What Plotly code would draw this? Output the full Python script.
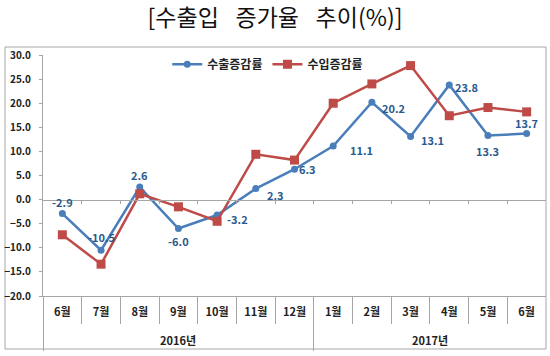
import plotly.graph_objects as go

years = ["2016년"] * 7 + ["2017년"] * 6
months = ["6월", "7월", "8월", "9월", "10월", "11월", "12월",
          "1월", "2월", "3월", "4월", "5월", "6월"]
exports = [-2.9, -10.5, 2.6, -6.0, -3.2, 2.3, 6.3, 11.1, 20.2, 13.1, 23.8, 13.3, 13.7]
imports = [-7.3, -13.4, 1.2, -1.5, -4.5, 9.4, 8.2, 20.0, 24.0, 27.8, 17.4, 19.1, 18.2]
y_ticks = [-20, -15, -10, -5, 0, 5, 10, 15, 20, 25, 30]

# label offsets (px) for the export data labels
label_dx = [0, 0, 0, 0, 20, 20, 13, 28, 22, 22, 17, 0, 0]
label_dy = [12, 13, 12, -12, -4, -6, 0, -4, -6, -4, -2, -16, 11]

FONT = "Noto Sans CJK KR"
BLUE = "#4A7EBB"
RED = "#BE4B48"
LBL = "#2A5A8E"
GRID = "#A6A6A6"

n = len(months)
idx = list(range(n))
xr = [-0.5, n - 0.5]
bounds = [i + 0.5 for i in range(n - 1)]
group_edges = [-0.5] + [i - 0.5 for i in range(1, n) if years[i] != years[i - 1]]
groups = []
for i, yv in enumerate(years):
    if not groups or groups[-1][0] != yv:
        groups.append([yv, i, i])
    else:
        groups[-1][2] = i

L, R, T, B = 43, 4, 55, 60
PW, PH = 550 - L - R, 356 - T - B

fig = go.Figure()
fig.add_trace(go.Scatter(
    x=idx, y=exports, name="수출증감률", mode="lines+markers",
    line=dict(color=BLUE, width=2.5), marker=dict(symbol="circle", size=7, color=BLUE)))
fig.add_trace(go.Scatter(
    x=idx, y=imports, name="수입증감률", mode="lines+markers",
    line=dict(color=RED, width=2.5), marker=dict(symbol="square", size=9, color=RED)))
for ax in ["x2", "x3", "x4"]:
    fig.add_trace(go.Scatter(x=idx, y=exports, xaxis=ax, mode="none",
                             showlegend=False, hoverinfo="skip"))

annotations = []
for i, v in enumerate(exports):
    annotations.append(dict(
        x=i, y=v, xref="x", yref="y", text=f"{v:.1f}", showarrow=False,
        xshift=label_dx[i], yshift=label_dy[i],
        font=dict(family=FONT, size=11, color=LBL, weight="bold")))
for name, a, b in groups:
    annotations.append(dict(
        x=(a + b) / 2, y=-44 / PH, xref="x", yref="paper", text=name, showarrow=False,
        yanchor="middle",
        font=dict(family=FONT, size=11, color="#222222", weight="bold")))

fig.update_layout(
    width=550, height=356,
    margin=dict(l=L, r=R, t=T, b=B, autoexpand=False),
    paper_bgcolor="white", plot_bgcolor="white",
    title=dict(text="[수출입\u2002 증가율\u2002 추이(%)]", x=0.5, xanchor="center",
               y=1 - 18 / 356, yanchor="middle",
               font=dict(family=FONT, size=23, color="#111111")),
    showlegend=True,
    legend=dict(orientation="h", x=0.247, xanchor="left", y=0.962, yanchor="middle",
                font=dict(family=FONT, size=12, color="#222222", weight="bold"),
                bgcolor="rgba(0,0,0,0)", itemwidth=30),
    xaxis=dict(range=xr, tickvals=idx, ticktext=months, ticks="",
               showline=True, linecolor=GRID, linewidth=1, ticklabelstandoff=6,
               showgrid=False, zeroline=False, automargin=False,
               tickfont=dict(family=FONT, size=11, color="#222222", weight="bold")),
    xaxis2=dict(overlaying="x", anchor="y", side="bottom", range=xr, tickvals=bounds,
                ticks="outside", ticklen=27, tickcolor=GRID, showline=False,
                showticklabels=False, showgrid=False, zeroline=False, automargin=False),
    xaxis3=dict(overlaying="x", anchor="free", position=20 / 50, range=xr, tickvals=bounds,
                showline=True, linecolor=GRID, linewidth=1,
                ticks="outside", ticklen=3, tickcolor=GRID,
                showticklabels=False, showgrid=False, zeroline=False, automargin=False),
    xaxis4=dict(overlaying="x", anchor="y", side="bottom", range=xr, tickvals=group_edges,
                ticks="outside", ticklen=54, tickcolor=GRID, showline=False,
                showticklabels=False, showgrid=False, zeroline=False, automargin=False),
    yaxis=dict(range=[-20, 30], tickvals=y_ticks, tickformat=".1f",
               showline=True, linecolor=GRID, linewidth=1,
               ticks="outside", ticklen=3, tickcolor=GRID,
               showgrid=False, zeroline=False, ticklabelstandoff=6, automargin=False,
               tickfont=dict(family=FONT, size=10, color="#222222", weight="bold")),
    annotations=annotations,
    shapes=[dict(type="rect", xref="paper", yref="paper",
                 x0=(5 - L) / PW, x1=(546 - L) / PW,
                 y0=(296 - 349) / PH, y1=(296 - 47) / PH,
                 line=dict(color=GRID, width=1), fillcolor="rgba(0,0,0,0)",
                 layer="below")],
)

fig.write_html("out.html", config={"displayModeBar": False},
               post_script="document.body.style.margin='0px';")
